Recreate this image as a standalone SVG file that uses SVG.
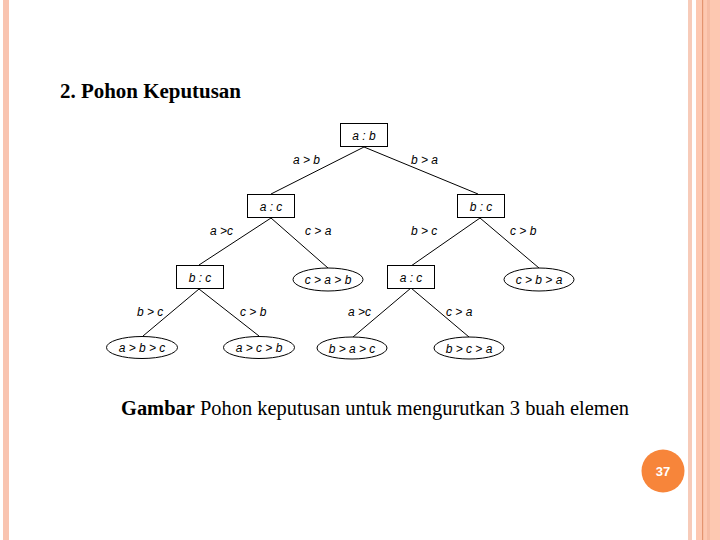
<svg xmlns="http://www.w3.org/2000/svg" width="720" height="540" viewBox="0 0 720 540">
<style>
.box{fill:#fff;stroke:#000;stroke-width:1}
.ell{fill:#fff;stroke:#000;stroke-width:1}
.nt{font-family:"Liberation Sans",Arial,sans-serif;font-size:12px;font-style:italic;fill:#000;text-anchor:middle}
.lb{font-family:"Liberation Sans",Arial,sans-serif;font-size:12px;font-style:italic;fill:#000}
.edge{stroke:#000;stroke-width:1;fill:none}
</style>
<rect width="720" height="540" fill="#fff"/>
<g id="page-border">
<rect x="3" y="0" width="6" height="540" fill="#f9c4b0"/>
<rect x="688" y="0" width="4" height="540" fill="#f7cbb9"/>
<rect x="696" y="0" width="24" height="540" fill="#fdc8b1"/>
<rect x="707" y="0" width="3" height="540" fill="#f6bca4"/>
<rect x="702" y="0" width="1.2" height="540" fill="#e49470"/>
</g>
<text x="60" y="98" font-family="'Liberation Serif','Times New Roman',serif" font-size="20" font-weight="bold" fill="#000" textLength="181" lengthAdjust="spacingAndGlyphs">2.  Pohon Keputusan</text>
<g id="connectors">
<line class="edge" x1="364" y1="147" x2="271" y2="194"/>
<line class="edge" x1="364" y1="147" x2="478" y2="194"/>
<line class="edge" x1="271" y1="218" x2="199" y2="265"/>
<line class="edge" x1="271" y1="218" x2="328" y2="268"/>
<line class="edge" x1="480" y1="218" x2="411" y2="266"/>
<line class="edge" x1="480" y1="218" x2="539" y2="268"/>
<line class="edge" x1="199" y1="289" x2="143" y2="336"/>
<line class="edge" x1="199" y1="289" x2="259" y2="336"/>
<line class="edge" x1="411" y1="288" x2="353" y2="337"/>
<line class="edge" x1="411" y1="288" x2="469" y2="337"/>
<text class="lb" x="293" y="164">a &gt; b</text>
<text class="lb" x="411" y="164">b &gt; a</text>
<text class="lb" x="210" y="235">a &gt;c</text>
<text class="lb" x="305" y="235">c &gt; a</text>
<text class="lb" x="411" y="235">b &gt; c</text>
<text class="lb" x="510" y="235">c &gt; b</text>
<text class="lb" x="137" y="316">b &gt; c</text>
<text class="lb" x="240" y="316">c &gt; b</text>
<text class="lb" x="348" y="316">a &gt;c</text>
<text class="lb" x="446" y="316">c &gt; a</text>
</g>
<g id="n-ab"><rect class="box" x="340.5" y="123.5" width="47" height="23"/><text class="nt" x="364" y="139.5">a : b</text></g>
<g id="n-ac1"><rect class="box" x="247.5" y="194.5" width="47" height="23"/><text class="nt" x="271" y="210.5">a : c</text></g>
<g id="n-bc1"><rect class="box" x="457.5" y="194.5" width="47" height="23"/><text class="nt" x="481" y="210.5">b : c</text></g>
<g id="n-bc2"><rect class="box" x="176.5" y="265.5" width="47" height="23"/><text class="nt" x="200" y="281.5">b : c</text></g>
<g id="n-cab"><ellipse class="ell" cx="328" cy="279.5" rx="35" ry="11.5"/><text class="nt" x="328" y="284">c &gt; a &gt; b</text></g>
<g id="n-ac2"><rect class="box" x="387.5" y="265.5" width="47" height="23"/><text class="nt" x="411" y="281.5">a : c</text></g>
<g id="n-cba"><ellipse class="ell" cx="539" cy="279.5" rx="35" ry="11.5"/><text class="nt" x="539" y="284">c &gt; b &gt; a</text></g>
<g id="n-abc"><ellipse class="ell" cx="142" cy="347.5" rx="35.5" ry="11"/><text class="nt" x="142" y="352">a &gt; b &gt; c</text></g>
<g id="n-acb"><ellipse class="ell" cx="259" cy="347.5" rx="35.5" ry="11"/><text class="nt" x="259" y="352">a &gt; c &gt; b</text></g>
<g id="n-bac"><ellipse class="ell" cx="352" cy="348" rx="35" ry="11"/><text class="nt" x="352" y="352.5">b &gt; a &gt; c</text></g>
<g id="n-bca"><ellipse class="ell" cx="469" cy="348" rx="35" ry="11"/><text class="nt" x="469" y="352.5">b &gt; c &gt; a</text></g>
<text x="121" y="415" font-family="'Liberation Serif','Times New Roman',serif" font-size="20" fill="#000" textLength="508" lengthAdjust="spacingAndGlyphs"><tspan font-weight="bold">Gambar</tspan> Pohon keputusan untuk mengurutkan 3 buah elemen</text>
<g id="page-number"><circle cx="663" cy="471" r="21.5" fill="#f7853a"/><text x="663" y="476" font-family="'Liberation Sans',Arial,sans-serif" font-size="13" font-weight="bold" fill="#fff" text-anchor="middle">37</text></g>
</svg>
